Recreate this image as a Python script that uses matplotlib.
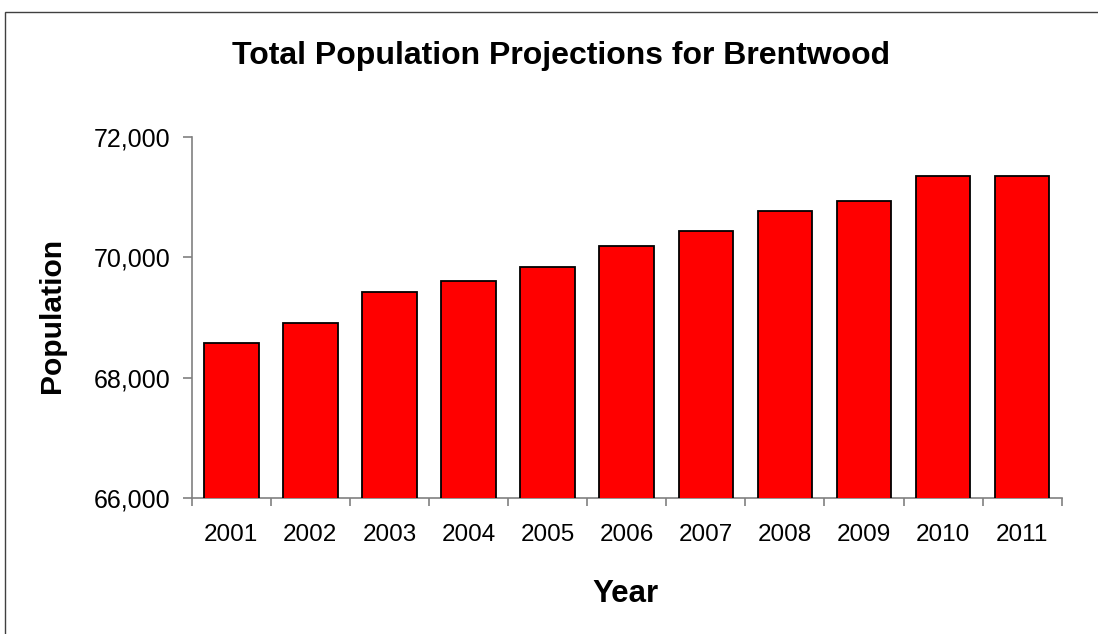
import matplotlib
matplotlib.use("Agg")
import matplotlib.pyplot as plt
import numpy as np
from matplotlib.ticker import FuncFormatter, FixedLocator
from matplotlib.patches import Rectangle

years = ["2001", "2002", "2003", "2004", "2005", "2006", "2007", "2008", "2009", "2010", "2011"]
population = [68571, 68904, 69430, 69603, 69841, 70196, 70436, 70769, 70940, 71357, 71357]
yticks = [66000, 68000, 70000, 72000]

plt.rcParams['font.family'] = ['Liberation Sans', 'DejaVu Sans']

W, H = 1098, 634
fig = plt.figure(figsize=(W / 100, H / 100), dpi=100)
fig.patch.set_facecolor("white")

# outer border (chart area frame)
fig.patches.append(Rectangle((4.5 / W, -0.1), 1.2, (H - 12) / H + 0.1, transform=fig.transFigure,
                             fill=False, edgecolor="#404040", linewidth=1.0))

ax = fig.add_axes([191.7 / W, (H - 497.7) / H, 870 / W, 360.4 / H])
x = np.arange(len(years))
ax.bar(x, population, width=0.69, color="#FF0000", edgecolor="black", linewidth=1.3, zorder=3)

ax.set_xlim(-0.5, len(years) - 0.5)
ax.set_ylim(66000, 72000)
ax.yaxis.set_major_locator(FixedLocator(yticks))
ax.yaxis.set_major_formatter(FuncFormatter(lambda v, p: f"{int(v):,}"))

ax.xaxis.set_major_locator(FixedLocator(np.arange(-0.5, len(years), 1.0)))
ax.xaxis.set_major_formatter(FuncFormatter(lambda v, p: ""))
ax.xaxis.set_minor_locator(FixedLocator(x))
ax.set_xticklabels(years, minor=True)

for s in ["top", "right"]:
    ax.spines[s].set_visible(False)
for s in ["left", "bottom"]:
    ax.spines[s].set_color("#808080")
    ax.spines[s].set_linewidth(1.2)

ax.tick_params(axis="y", which="major", direction="out", length=6.5, width=1.2, color="#808080",
               labelsize=18, pad=9)
ax.tick_params(axis="x", which="major", direction="out", length=6, width=1.2, color="#808080")
ax.tick_params(axis="x", which="minor", length=0, labelsize=17.5, pad=19)

fig.text(560.8 / W, 1 - 64 / H, "Total Population Projections for Brentwood", ha="center",
         va="baseline", fontsize=23, fontweight="bold")
fig.text(625.5 / W, 1 - 601.7 / H, "Year", ha="center", va="baseline", fontsize=22.5,
         fontweight="bold")
fig.text(51.5 / W, 1 - 315.5 / H, "Population", ha="center", va="center", rotation=90,
         fontsize=21.6, fontweight="bold")

fig.savefig("out.png", dpi=100)
